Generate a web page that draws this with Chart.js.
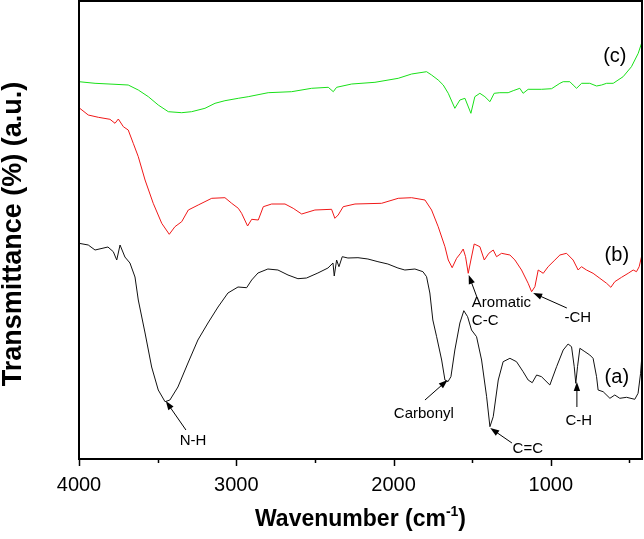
<!DOCTYPE html>
<html>
<head>
<meta charset="utf-8">
<script src="https://cdn.jsdelivr.net/npm/chart.js@4.4.1/dist/chart.umd.min.js"></script>
<style>
  html, body { margin: 0; padding: 0; background: #fff; }
  #wrap { width: 644px; height: 539px; }
</style>
</head>
<body>
<div id="wrap"><canvas id="myChart"></canvas></div>
<script>
// (a) black spectrum
const waveA = [4000, 3941, 3898, 3816, 3782, 3760, 3739, 3708, 3676, 3644, 3623, 3580, 3538, 3496, 3453, 3422, 3371, 3307, 3244, 3180, 3116, 3053, 2989, 2934, 2902, 2862, 2799, 2735, 2671, 2608, 2553, 2481, 2417, 2385, 2377, 2362, 2347, 2326, 2290, 2226, 2163, 2099, 2036, 1972, 1928, 1864, 1813, 1790, 1769, 1750, 1726, 1694, 1673, 1654, 1635, 1610, 1578, 1553, 1529, 1504, 1472, 1440, 1408, 1387, 1366, 1334, 1303, 1260, 1218, 1176, 1144, 1118, 1090, 1059, 1006, 963, 921, 890, 868, 851, 841, 830, 815, 783, 752, 731, 709, 699, 667, 624, 593, 561, 518, 466, 445, 429, 421];
const valA = [215.7, 214, 209, 212, 207.3, 199, 214, 202, 196, 182, 159, 126, 92, 69, 57.3, 59, 72, 96, 119, 136, 152, 166, 172, 171.3, 179, 186, 190, 189, 184, 180.3, 181, 186, 191, 196, 183, 199, 192.3, 202.3, 201, 201.3, 200, 197.3, 195, 191, 189, 190, 187.3, 182.3, 166, 139, 122.3, 99, 79, 77.3, 82.3, 109, 136, 148.3, 142.3, 129, 122.3, 99, 62.3, 32.3, 42.3, 79, 97.3, 100.7, 97.3, 87.3, 79, 76.3, 84, 82.3, 74, 92.3, 109, 115, 112.3, 92.3, 75.7, 92.3, 110.7, 107.3, 104, 100.7, 82.3, 69, 67.3, 60.7, 64, 60.7, 61.7, 59.7, 65.7, 85.7, 102.3];

// (b) red spectrum
const waveB = [4000, 3941, 3877, 3803, 3771, 3750, 3718, 3687, 3655, 3623, 3580, 3528, 3474, 3426, 3390, 3347, 3305, 3242, 3156, 3072, 3029, 2987, 2966, 2928, 2902, 2860, 2828, 2775, 2690, 2638, 2584, 2500, 2394, 2373, 2352, 2320, 2245, 2076, 1970, 1885, 1800, 1758, 1716, 1673, 1652, 1627, 1599, 1574, 1557, 1542, 1525, 1508, 1487, 1451, 1423, 1394, 1366, 1345, 1313, 1260, 1228, 1186, 1144, 1122, 1101, 1080, 1048, 1017, 974, 942, 900, 858, 826, 805, 773, 731, 688, 645, 618, 593, 550, 508, 476, 455, 438, 423, 421];
const valB = [351.3, 344, 341.7, 339.7, 335.7, 340, 332.3, 329, 315.7, 302.3, 279, 255.7, 235.7, 224.7, 232.3, 237.3, 249, 254, 260.7, 261.3, 255.7, 250.7, 245.7, 233, 239.7, 239, 252.3, 255, 255, 250.7, 245, 249, 249.7, 240.7, 244, 252.3, 255, 255.7, 260.7, 261.3, 259, 249, 232.3, 212.3, 199, 191.3, 200.7, 205.7, 210, 202.3, 185.7, 199, 215, 212.3, 199, 205.7, 209, 202.3, 205.7, 204, 199, 189, 175.7, 167.3, 172.3, 189, 185.7, 192.3, 199, 204, 205.7, 199, 189, 192.3, 189, 185.7, 180.7, 175.7, 171.7, 177.3, 181.7, 185.7, 189, 187.3, 192.3, 202.3, 212];

// (c) green spectrum
const waveC = [4000, 3898, 3771, 3687, 3623, 3559, 3496, 3432, 3347, 3284, 3199, 3135, 3072, 2987, 2924, 2797, 2648, 2521, 2415, 2383, 2362, 2266, 2118, 1970, 1885, 1790, 1758, 1716, 1684, 1652, 1610, 1578, 1546, 1508, 1483, 1451, 1419, 1387, 1360, 1324, 1271, 1239, 1197, 1176, 1144, 1059, 995, 942, 921, 879, 858, 836, 804, 752, 709, 677, 645, 603, 540, 487, 444, 423, 421];
const valC = [377.3, 375.7, 374.7, 374, 369, 362.3, 354, 347.3, 346.3, 347.3, 350.7, 355.7, 358.3, 360.7, 362.3, 366.3, 367.3, 370.7, 371.7, 367.3, 371.7, 375, 376.7, 380.7, 385, 387.3, 384, 379, 374, 365.7, 350.7, 359, 360.7, 345.7, 362.3, 365.7, 362.3, 357.3, 365.7, 366.3, 366.3, 368.3, 370.7, 365.7, 369.7, 369.7, 370.3, 375.7, 377.3, 377.3, 374, 370.7, 375.7, 375.7, 373, 374, 375.7, 375.7, 382.3, 392.3, 405.7, 415.7, 430];

const xTicks = [4000, 3000, 2000, 1000];

// labels with arrows, in data units (wavenumber, a.u.)
const notes = [
  { text: 'N-H', x: 3275, y: 18, from: [3320, 29], to: [3448, 58] },
  { text: 'Carbonyl', x: 1807, y: 45, from: [1800, 59], to: [1656, 79] },
  { text: 'C=C', x: 1146, y: 10, from: [1247, 16], to: [1385, 31] },
  { text: 'Aromatic', x: 1502, y: 156, align: 'left', from: [1470, 162], to: [1522, 184] },
  { text: 'C-C', x: 1502, y: 138, align: 'left' },
  { text: '-CH', x: 828, y: 141, from: [898, 151], to: [1112, 166] },
  { text: 'C-H', x: 822, y: 38, from: [834, 52], to: [834, 77] }
];
const tags = [
  { text: '(c)', x: 593, y: 403 },
  { text: '(b)', x: 580, y: 204 },
  { text: '(a)', x: 580, y: 82 }
];

const FONT = "'Liberation Sans', Arial, sans-serif";

const toPoints = (w, v) => w.map((x, i) => ({ x: x, y: v[i] }));

function arrow(c, x1, y1, x2, y2) {
    const ang = Math.atan2(y2 - y1, x2 - x1);
    const len = 9, hw = 3.2;
    c.beginPath();
    c.moveTo(x1, y1);
    c.lineTo(x2 - Math.cos(ang) * len * 0.8, y2 - Math.sin(ang) * len * 0.8);
    c.stroke();
    c.beginPath();
    c.moveTo(x2, y2);
    c.lineTo(x2 - Math.cos(ang) * len - Math.sin(ang) * hw, y2 - Math.sin(ang) * len + Math.cos(ang) * hw);
    c.lineTo(x2 - Math.cos(ang) * len + Math.sin(ang) * hw, y2 - Math.sin(ang) * len - Math.cos(ang) * hw);
    c.closePath();
    c.fill();
}

const decorPlugin = {
    id: 'decor',
    afterDraw(chart) {
        const c = chart.ctx;
        const a = chart.chartArea;
        const xs = chart.scales.x, ys = chart.scales.y;
        c.save();
        // frame
        c.strokeStyle = '#000';
        c.lineWidth = 2;
        c.strokeRect(a.left, a.top, a.right - a.left, a.bottom - a.top);
        // x ticks, major and minor
        c.lineWidth = 1.5;
        for (let v = 500; v <= 4000; v += 500) {
            const px = Math.round(xs.getPixelForValue(v)) + 0.5;
            const len = v % 1000 === 0 ? 7 : 4;
            c.beginPath();
            c.moveTo(px, a.bottom);
            c.lineTo(px, a.bottom + len);
            c.stroke();
        }
        // annotations
        c.fillStyle = '#000';
        c.lineWidth = 1;
        c.font = '15px ' + FONT;
        c.textBaseline = 'middle';
        notes.forEach(n => {
            c.textAlign = n.align || 'center';
            c.fillText(n.text, xs.getPixelForValue(n.x), ys.getPixelForValue(n.y));
            if (n.from) {
                arrow(c, xs.getPixelForValue(n.from[0]), ys.getPixelForValue(n.from[1]),
                    xs.getPixelForValue(n.to[0]), ys.getPixelForValue(n.to[1]));
            }
        });
        c.font = '20px ' + FONT;
        c.textAlign = 'center';
        tags.forEach(t => {
            c.fillText(t.text, xs.getPixelForValue(t.x), ys.getPixelForValue(t.y));
        });
        // x title with superscript
        const cx = (a.left + a.right) / 2;
        const base = 526;
        const p1 = 'Wavenumber (cm', p2 = '-1', p3 = ')';
        c.font = 'bold 23px ' + FONT;
        const w1 = c.measureText(p1).width, w3 = c.measureText(p3).width;
        c.font = 'bold 14px ' + FONT;
        const w2 = c.measureText(p2).width;
        let x0 = cx - (w1 + w2 + w3) / 2;
        c.textAlign = 'left';
        c.textBaseline = 'alphabetic';
        c.font = 'bold 23px ' + FONT;
        c.fillText(p1, x0, base);
        c.font = 'bold 14px ' + FONT;
        c.fillText(p2, x0 + w1, base - 10);
        c.font = 'bold 23px ' + FONT;
        c.fillText(p3, x0 + w1 + w2, base);
        // y title
        c.translate(14, (a.top + a.bottom) / 2 + 4);
        c.rotate(-Math.PI / 2);
        c.textAlign = 'center';
        c.textBaseline = 'middle';
        c.font = 'bold 27px ' + FONT;
        c.fillText('Transmittance (%) (a.u.)', 0, 0);
        c.restore();
    }
};

const ctx = document.getElementById('myChart');

new Chart(ctx, {
    type: 'line',
    data: {
        datasets: [
            { label: '(a)', data: toPoints(waveA, valA), borderColor: '#111', borderWidth: 1 },
            { label: '(b)', data: toPoints(waveB, valB), borderColor: '#f01818', borderWidth: 1 },
            { label: '(c)', data: toPoints(waveC, valC), borderColor: '#18e018', borderWidth: 1 }
        ]
    },
    options: {
        responsive: true,
        maintainAspectRatio: false,
        animation: false,
        layout: { padding: { left: 79, right: 2, top: 1, bottom: 0 } },
        elements: { point: { radius: 0 }, line: { tension: 0 } },
        plugins: { legend: { display: false }, tooltip: { enabled: false } },
        scales: {
            x: {
                type: 'linear',
                reverse: true,
                min: 420,
                max: 4000,
                grid: { display: false },
                border: { display: false },
                afterFit: s => { s.height = 80; },
                afterBuildTicks: s => { s.ticks = xTicks.map(v => ({ value: v })); },
                ticks: {
                    autoSkip: false,
                    maxRotation: 0,
                    padding: 6,
                    color: '#000',
                    font: { size: 20, family: FONT },
                    callback: v => String(v)
                }
            },
            y: {
                display: false,
                min: 0,
                max: 458
            }
        }
    },
    plugins: [decorPlugin]
});
</script>
</body>
</html>
